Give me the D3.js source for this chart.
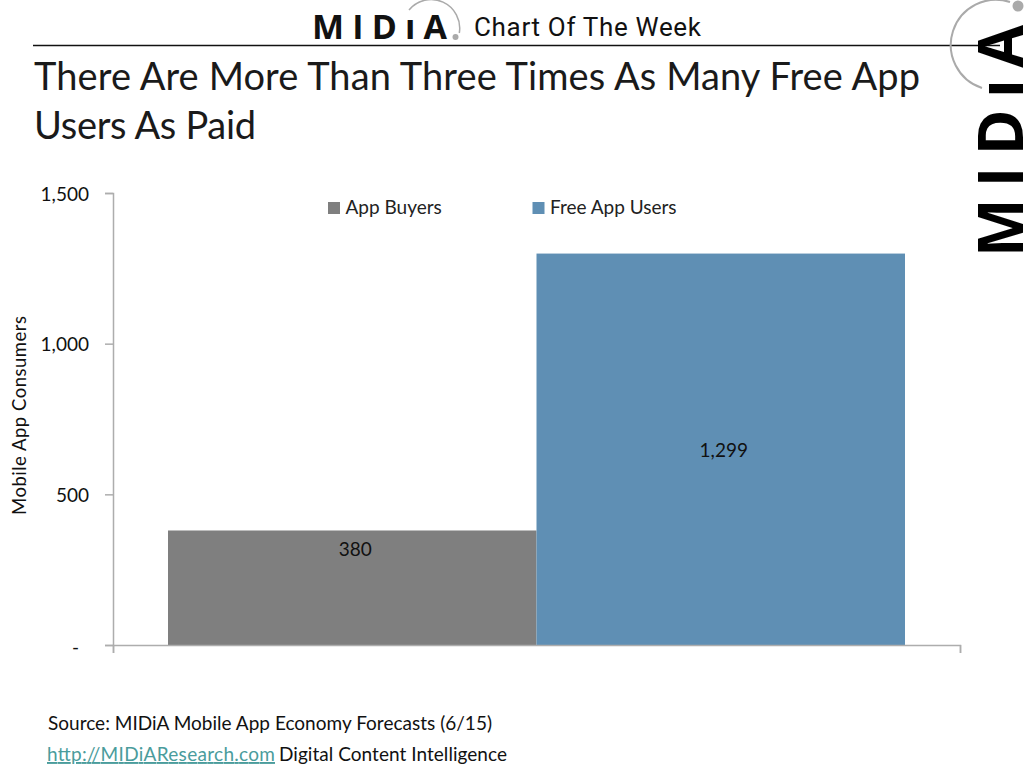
<!DOCTYPE html>
<html><head><meta charset="utf-8">
<script src="https://cdnjs.cloudflare.com/ajax/libs/d3/7.8.5/d3.min.js"></script>
<style>html,body{margin:0;padding:0;background:#fff}svg{display:block}text{font-family:Lato,"Open Sans",sans-serif}</style>
</head><body><svg id="c" width="1024" height="779"></svg>
<script>
const series = ["App Buyers", "Free App Users"];
const values = [380, 1299];
const labelAt = [315, 645];
const colors = ["#7f7f7f", "#5f8fb4"];
const yTicks = [0, 500, 1000, 1500];
const yTickLabels = ["-", "500", "1,000", "1,500"];
const titleLines = ["There Are More Than Three Times As Many Free App", "Users As Paid"];
const titleWidths = [886, 222];

const svg = d3.select("#c");
const y = d3.scaleLinear().domain([0, 1500]).range([645, 193]);
const x = d3.scaleBand().domain(series).range([168, 905]).padding(0);

// header
svg.append("line").attr("x1",33).attr("x2",1000).attr("y1",45.5).attr("y2",45.5).attr("stroke","#111").attr("stroke-width",1.5);
svg.append("text").attr("x",312).attr("y",39).attr("font-size",34).attr("font-weight",700).attr("fill","#111").attr("textLength",135).attr("lengthAdjust","spacing").style("font-family","'Open Sans',sans-serif").text("MIDıA");
svg.append("path").attr("d","M409,10 A28.6,28.6 0 0 1 459.3,33").attr("fill","none").attr("stroke","#aaa").attr("stroke-width",1.5);
svg.append("circle").attr("cx",455.5).attr("cy",37).attr("r",3).attr("fill","#aaa");
svg.append("text").attr("x",474).attr("y",35.5).attr("font-size",26).attr("fill","#111").style("font-family","Roboto,sans-serif").attr("textLength",227).text("Chart Of The Week");

// side logo
svg.append("path").attr("d","M1010,2 A45,45 0 0 0 982,88").attr("fill","none").attr("stroke","#aaa").attr("stroke-width",2);
svg.append("circle").attr("cx",1018).attr("cy",6).attr("r",5.5).attr("fill","#aaa");
svg.append("text").attr("transform","translate(1023,257) rotate(-90)").attr("font-size",62).attr("font-weight",700).attr("fill","#000").attr("textLength",232).attr("lengthAdjust","spacing").style("font-family","'Open Sans',sans-serif").text("MIDıA");

// title
svg.selectAll("text.title").data(titleLines).join("text").attr("class","title")
  .attr("x",34).attr("y",(d,i)=>90+i*49).attr("font-size",38).attr("fill","#1a1a1a").attr("textLength",(d,i)=>titleWidths[i]).style("font-family","Lato,sans-serif").text(d=>d);

// bars
svg.selectAll("rect.bar").data(values).join("rect").attr("class","bar")
  .attr("x",(d,i)=>x(series[i])).attr("width",x.bandwidth())
  .attr("y",d=>y(d)).attr("height",d=>y(0)-y(d)).attr("fill",(d,i)=>colors[i]);

// axes
const yAxis = d3.axisLeft(y).tickValues(yTicks).tickFormat((d,i)=>yTickLabels[i]).tickSize(8).tickPadding(16);
const gy = svg.append("g").attr("transform","translate(113,0)").call(yAxis);
gy.selectAll("path,line").attr("stroke","#adadad").attr("stroke-width",1.5);
gy.selectAll("text").attr("font-size",19).attr("fill","#111").attr("dy","0.38em");
gy.selectAll(".tick text").filter(d=>d===0).attr("dx",-10).attr("dy","0.45em");
const xAxis = d3.scaleLinear().domain([0,1]).range([113,960]);
const gx = svg.append("g").attr("transform","translate(0,645)").call(d3.axisBottom(xAxis).tickValues([0,1]).tickFormat("").tickSize(8));
gx.selectAll("path,line").attr("stroke","#adadad").attr("stroke-width",1.5);

// y title
svg.append("text").attr("transform","translate(26,415.5) rotate(-90)").attr("text-anchor","middle").attr("font-size",18.5).attr("fill","#111").attr("textLength",199).text("Mobile App Consumers");

// data labels
svg.selectAll("text.val").data(values).join("text").attr("class","val")
  .attr("x",(d,i)=>x(series[i])+x.bandwidth()/2+3).attr("y",(d,i)=>y(labelAt[i])+6)
  .attr("text-anchor","middle").attr("font-size",19).attr("fill","#111").text(d3.format(","));

// legend
const lx = [328, 532.5];
const lg = svg.selectAll("g.lg").data(series).join("g").attr("class","lg").attr("transform",(d,i)=>`translate(${lx[i]},202)`);
lg.append("rect").attr("width",12).attr("height",12).attr("fill",(d,i)=>colors[i]);
lg.append("text").attr("x",17.5).attr("y",12).attr("font-size",19).attr("fill","#222").text(d=>d);

// footer
svg.append("text").attr("x",48).attr("y",730).attr("font-size",19).attr("fill","#111").attr("textLength",444).text("Source: MIDiA Mobile App Economy Forecasts (6/15)");
svg.append("text").attr("x",47).attr("y",761).attr("font-size",19).attr("fill","#4a9c9c").attr("text-decoration","underline").attr("textLength",228).text("http://MIDiAResearch.com");
svg.append("text").attr("x",279).attr("y",761).attr("font-size",19).attr("fill","#111").attr("textLength",228).text("Digital Content Intelligence");
</script></body></html>
